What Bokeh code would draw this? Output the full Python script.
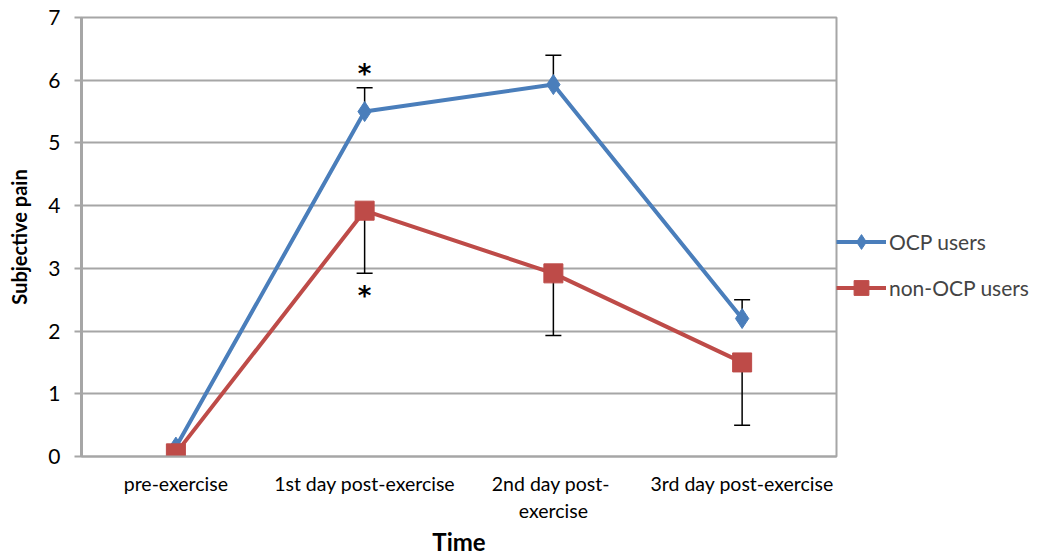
from bokeh.plotting import figure
from bokeh.models import (ColumnDataSource, Whisker, TeeHead, Legend, LegendItem,
                          FixedTicker, Range1d)
from bokeh.core.properties import value
from bokeh.embed import file_html
from bokeh.resources import INLINE

categories = ["pre-exercise", "1st day post-exercise", "2nd  day post-\nexercise", "3rd day post-exercise"]
ocp = [0.15, 5.50, 5.93, 2.20]
ocp_err = [0.0, 0.38, 0.47, 0.30]
non_ocp = [0.05, 3.92, 2.92, 1.50]
non_ocp_err = [0.0, 1.00, 0.99, 1.00]
signif = [False, True, False, False]

FONT = "Lato"
BLUE = "#4A7EBB"
RED = "#BE4B48"
GRID = "#A6A6A6"

xs = [i + 0.5 for i in range(len(categories))]

p = figure(frame_width=755, frame_height=439, output_backend="svg", toolbar_location=None,
           x_range=Range1d(0, 4), y_range=Range1d(0, 7),
           min_border_left=81, min_border_top=17, min_border_bottom=90, min_border_right=0)
p.background_fill_color = "white"
p.border_fill_color = "white"
p.outline_line_color = GRID
p.outline_line_width = 2

# axes
p.xaxis.ticker = FixedTicker(ticks=xs)
p.xaxis.major_label_overrides = {x: c for x, c in zip(xs, categories)}
p.xaxis.major_tick_line_color = None
p.xaxis.minor_tick_line_color = None
p.xaxis.axis_line_color = GRID
p.xaxis.axis_line_width = 2
p.xaxis.major_label_text_font = FONT
p.xaxis.major_label_text_font_size = "19.5px"
p.xaxis.major_label_text_color = "black"
p.xaxis.major_label_standoff = 9
p.xaxis.axis_label = "Time"
p.xaxis.axis_label_text_font = FONT
p.xaxis.axis_label_text_font_size = "24px"
p.xaxis.axis_label_text_font_style = "bold"
p.xaxis.axis_label_text_color = "black"
p.xaxis.axis_label_standoff = 2
p.xgrid.grid_line_color = None

p.yaxis.ticker = FixedTicker(ticks=list(range(0, 8)))
p.yaxis.minor_tick_line_color = None
p.yaxis.axis_line_color = GRID
p.yaxis.axis_line_width = 3
p.yaxis.major_tick_line_color = GRID
p.yaxis.major_tick_line_width = 2
p.yaxis.major_tick_out = 7
p.yaxis.major_tick_in = 0
p.yaxis.major_label_text_font = FONT
p.yaxis.major_label_text_font_size = "21px"
p.yaxis.major_label_text_color = "black"
p.yaxis.major_label_standoff = 14
p.yaxis.axis_label = "Subjective pain"
p.yaxis.axis_label_text_font = FONT
p.yaxis.axis_label_text_font_size = "20px"
p.yaxis.axis_label_text_font_style = "bold"
p.yaxis.axis_label_text_color = "black"
p.yaxis.axis_label_standoff = 14
p.ygrid.grid_line_color = GRID
p.ygrid.grid_line_width = 2

# error bars
ocp_src = ColumnDataSource(dict(x=[x for x, e in zip(xs, ocp_err) if e > 0],
                                lo=[v for v, e in zip(ocp, ocp_err) if e > 0],
                                hi=[v + e for v, e in zip(ocp, ocp_err) if e > 0]))
non_src = ColumnDataSource(dict(x=[x for x, e in zip(xs, non_ocp_err) if e > 0],
                                lo=[v - e for v, e in zip(non_ocp, non_ocp_err) if e > 0],
                                hi=[v for v, e in zip(non_ocp, non_ocp_err) if e > 0]))
w1 = Whisker(source=ocp_src, base="x", lower="lo", upper="hi", line_color="black", line_width=1.5,
             upper_head=TeeHead(size=16, line_color="black", line_width=1.5), lower_head=None)
w2 = Whisker(source=non_src, base="x", lower="lo", upper="hi", line_color="black", line_width=1.5,
             lower_head=TeeHead(size=16, line_color="black", line_width=1.5), upper_head=None)
p.add_layout(w1)
p.add_layout(w2)

# series
r1l = p.line(xs, ocp, line_color=BLUE, line_width=4)
r1m = p.scatter(xs, ocp, marker="diamond", size=20, fill_color=BLUE, line_color=BLUE)
r2l = p.line(xs, non_ocp, line_color=RED, line_width=4)
r2m = p.scatter(xs, non_ocp, marker="square", size=19, fill_color=RED, line_color=RED)

# significance asterisks
sx = [x for x, s in zip(xs, signif) if s]
sy_top = [v + e + 0.22 for v, e, s in zip(ocp, ocp_err, signif) if s]
sy_bot = [v - e - 0.36 for v, e, s in zip(non_ocp, non_ocp_err, signif) if s]
p.text(sx + sx, sy_top + sy_bot, text=["*"] * (2 * len(sx)), text_font=value("DejaVu Sans"),
       text_font_size="26px", text_font_style="bold", text_align="center",
       text_baseline="middle", text_color="black")

legend = Legend(items=[LegendItem(label="OCP users", renderers=[r1l, r1m]),
                       LegendItem(label="non-OCP users", renderers=[r2l, r2m])],
                location=(0, 150), orientation="vertical",
                label_text_font=FONT, label_text_font_size="21px",
                glyph_width=50, glyph_height=37, spacing=9, padding=0, margin=4,
                label_standoff=3, border_line_color=None, background_fill_alpha=0)
p.add_layout(legend, "right")

open("out.html", "w").write(file_html(p, INLINE))
